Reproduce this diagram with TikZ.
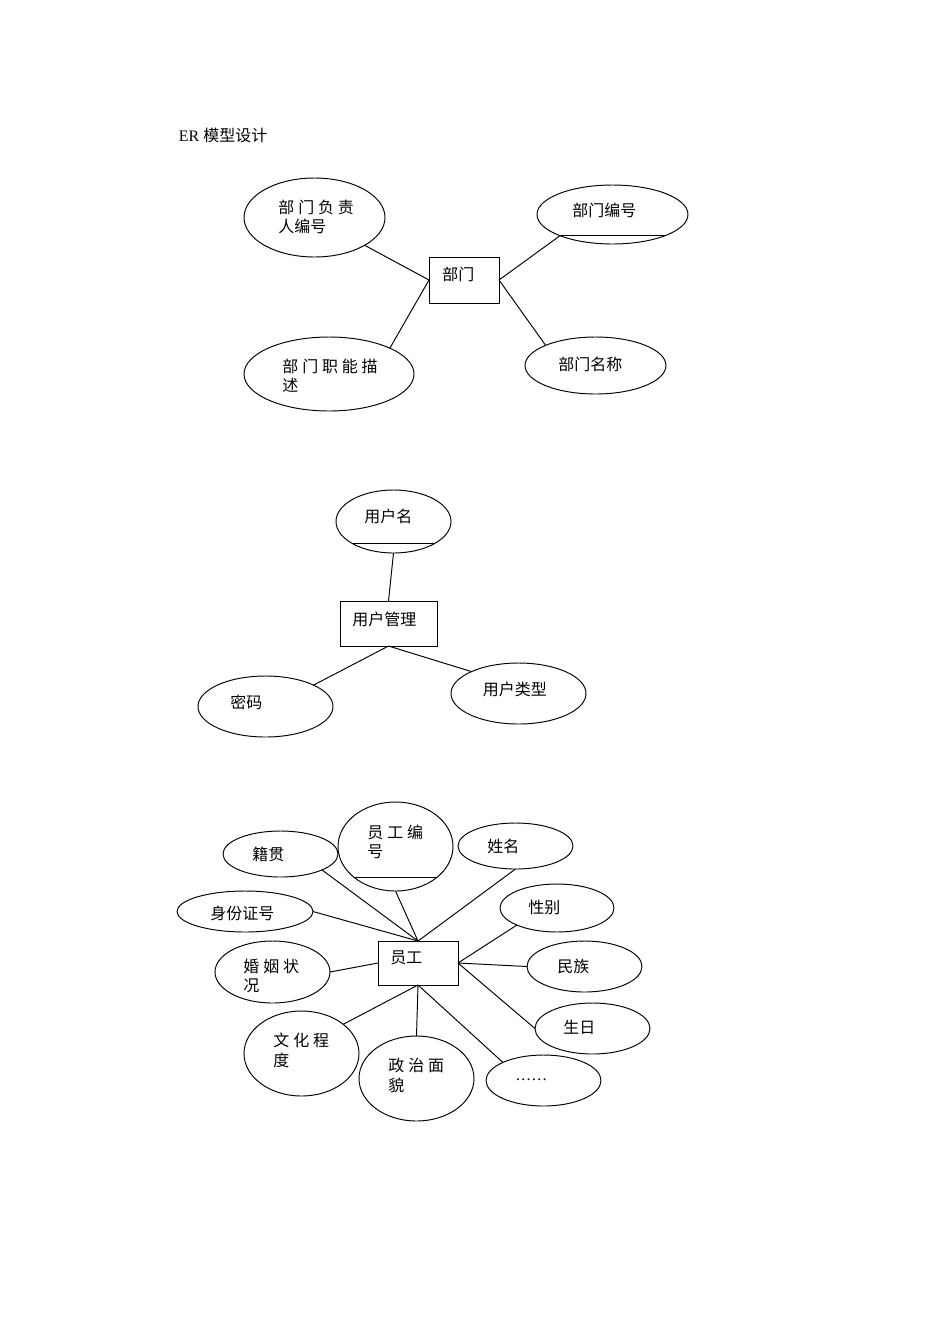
\documentclass[tikz,border=0pt]{standalone}
\usepackage{fontspec}
\setmainfont{Liberation Serif}
\newfontfamily\cjk{Noto Sans CJK SC}
\usetikzlibrary{shapes.geometric}
\newlength\pxu
\setlength\pxu{0.6263pt}
\newcommand\gap{\hspace{2.4pt}}

\begin{document}
\begin{tikzpicture}[x=0.6263pt, y=-0.6263pt, line width=0.6pt,
    attr/.style 2 args={draw, ellipse, inner sep=0pt, outer sep=0pt,
        minimum width={#1*\pxu}, minimum height={#2*\pxu}},
    ent/.style 2 args={draw, rectangle, inner sep=0pt, outer sep=0pt,
        minimum width={#1*\pxu}, minimum height={#2*\pxu}},
    lbl/.style={anchor=west, inner sep=0pt, align=left,
        font=\cjk\fontsize{10pt}{12.2pt}\selectfont}]
    \useasboundingbox (0,0) rectangle (950,1344);

    % Titolo
    \node[anchor=west, inner sep=0pt] (title) at (178.5,135) {ER {\cjk 模型设计}};

    % --- Entita 部门 ---
    \begin{scope}
        \node[ent={70}{46}] (dept) at (464,280) {};
        \node[lbl] (deptT) at (442,274) {部门};

        % Attributi
        \node[attr={141}{79}] (mgr) at (314.5,217.5) {};
        \node[lbl] (mgrT) at (278,216.7) {部\gap 门\gap 负\gap 责\\人编号};
        \node[attr={151}{59}] (deptno) at (612.5,214.5) {};
        \node[lbl] (deptnoT) at (572,210.5) {部门编号};
        \node[attr={170}{74}] (func) at (329,374) {};
        \node[lbl] (funcT) at (282,376) {部\gap 门\gap 职\gap 能\gap 描\\述};
        \node[attr={141}{57}] (dname) at (595.5,365.5) {};
        \node[lbl] (dnameT) at (558,364) {部门名称};

        % Chiave
        \draw (deptno.202.6) -- (deptno.-22.6);

        % Collegamenti
        \draw (dept.west) -- (mgr.-29);
        \draw (dept.west) -- (func.23);
        \draw (dept.east) -- (deptno.202.6);
        \draw (dept.east) -- (dname.158.5);
    \end{scope}

    % --- Entita 用户管理 ---
    \begin{scope}
        \node[ent={97}{45}] (um) at (388.5,623.5) {};
        \node[lbl] (umT) at (352,619) {用户管理};

        % Attributi
        \node[attr={115}{63}] (uname) at (393.5,521.5) {};
        \node[lbl] (unameT) at (364,516.5) {用户名};
        \node[attr={135}{61}] (pwd) at (265.5,706.5) {};
        \node[lbl] (pwdT) at (230,702) {密码};
        \node[attr={135}{61}] (utype) at (518.5,693.5) {};
        \node[lbl] (utypeT) at (482.5,689) {用户类型};

        % Chiave
        \draw (uname.209.2) -- (uname.-29.2);

        % Collegamenti
        \draw (uname.south) -- (um.north);
        \draw (um.south) -- (pwd.24.4);
        \draw (um.south) -- (utype.155.6);
    \end{scope}

    % --- Entita 员工 ---
    \begin{scope}
        \node[ent={80}{44}] (emp) at (418,963) {};
        \node[lbl] (empT) at (390,958) {员工};

        % Attributi
        \node[attr={115}{46}] (jg) at (280.5,854) {};
        \node[lbl] (jgT) at (252,854) {籍贯};
        \node[attr={115}{89}] (eno) at (395.5,846.5) {};
        \node[lbl] (enoT) at (367,842) {员\gap 工\gap 编\\号};
        \node[attr={115}{46}] (xm) at (515.5,846) {};
        \node[lbl] (xmT) at (487,846) {姓名};
        \node[attr={136}{41}] (sfz) at (245,911.5) {};
        \node[lbl] (sfzT) at (210,913) {身份证号};
        \node[attr={114}{48}] (xb) at (557,908) {};
        \node[lbl] (xbT) at (528,907) {性别};
        \node[attr={115}{62}] (hy) at (272.5,972) {};
        \node[lbl] (hyT) at (243,976) {婚\gap 姻\gap 状\\况};
        \node[attr={115}{51}] (mz) at (584.5,966.5) {};
        \node[lbl] (mzT) at (557,966) {民族};
        \node[attr={115}{51}] (sr) at (592.5,1028.5) {};
        \node[lbl] (srT) at (563,1027.5) {生日};
        \node[attr={115}{85}] (wh) at (301.5,1053.5) {};
        \node[lbl] (whT) at (273,1050.5) {文\gap 化\gap 程\\度};
        \node[attr={115}{85}] (zz) at (416.5,1078.5) {};
        \node[lbl] (zzT) at (388,1075.5) {政\gap 治\gap 面\\貌};
        \node[attr={115}{51}] (more) at (543.5,1080.5) {};
        \node[anchor=base west, inner sep=0pt] (moreT) at (515,1080) {……};

        % Chiave
        \draw (eno.217.8) -- (eno.-37.8);

        % Collegamenti
        \draw (emp.north) -- (jg.-21.6);
        \draw (emp.north) -- (eno.south);
        \draw (emp.north) -- (xm.south);
        \draw (emp.north) -- (sfz.east);
        \draw (emp.west) -- (hy.east);
        \draw (emp.east) -- (xb.203);
        \draw (emp.east) -- (mz.west);
        \draw (emp.east) -- (sr.west);
        \draw (emp.south) -- (wh.35.4);
        \draw (emp.south) -- (zz.north);
        \draw (emp.south) -- (more.156);
    \end{scope}
\end{tikzpicture}
\end{document}
